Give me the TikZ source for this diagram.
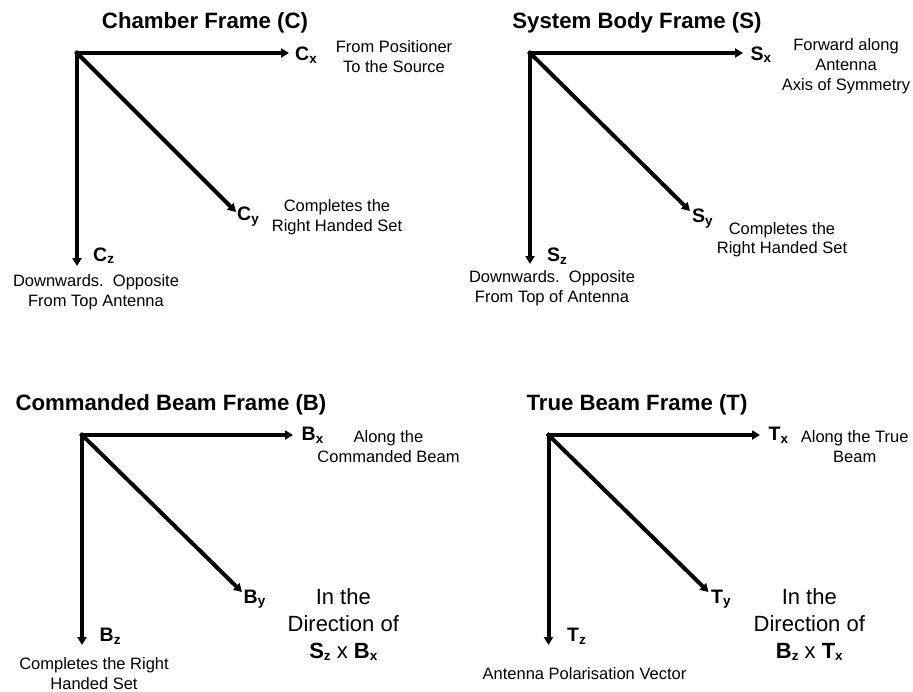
\documentclass[tikz,border=0pt]{standalone}
\usepackage{fontspec}
\setmainfont{Liberation Sans}
\usetikzlibrary{arrows.meta, positioning}

% bold axis name with lowered index
\newcommand{\axlab}[2]{#1\raisebox{-2.5pt}{\fontsize{13.5}{13.5}\selectfont #2}}

\begin{document}
\begin{tikzpicture}[
  x=1pt, y=-1pt,
  axis/.style    = {line width=4pt, line cap=rect, -{Triangle[length=8pt,width=9pt]}},
  ttl/.style     = {font=\fontsize{22.2}{24}\selectfont\bfseries, inner sep=0pt, anchor=base},
  axname/.style  = {font=\fontsize{19.5}{22}\selectfont\bfseries, inner sep=0pt, anchor=base west},
  note/.style    = {font=\fontsize{16.5}{19.6}\selectfont, align=center, inner sep=0pt, anchor=north},
  bignote/.style = {font=\fontsize{22}{27}\selectfont, align=center, inner sep=0pt, anchor=north},
]
  \useasboundingbox (0,0) rectangle (913,691);

%--- Chamber frame (top left) ---
  \node[ttl] (Ct) at (205,28.5) {Chamber Frame (C)};

  \coordinate (Co)  at (77,53);
  \coordinate (Cxe) at (289,53);
  \coordinate (Cye) at (236,212);
  \coordinate (Cze) at (77,266);

  \draw[axis] (Co) -- (Cxe);
  \draw[axis] (Co) -- (Cye);
  \draw[axis] (Co) -- (Cze);

  \node[axname] (Cx) at (295,60.5)  {\axlab{C}{x}};
  \node[axname] (Cy) at (237,220.5) {\axlab{C}{y}};
  \node[axname] (Cz) at (93,261)    {\axlab{C}{z}};

  \node[note] (Cxn) at (394,40.7)  {From Positioner\\To the Source};
  \node[note] (Cyn) at (337,199.7) {Completes the\\Right Handed Set};
  \node[note] (Czn) at (96,274.7)  {Downwards.~~Opposite\\From Top Antenna};

%--- System body frame (top right) ---
  \node[ttl] (St) at (637,28.8) {System Body Frame (S)};

  \coordinate (So)  at (530,53);
  \coordinate (Sxe) at (743,53);
  \coordinate (Sye) at (690,211);
  \coordinate (Sze) at (530,264);

  \draw[axis] (So) -- (Sxe);
  \draw[axis] (So) -- (Sye);
  \draw[axis] (So) -- (Sze);

  \node[axname] (Sx) at (750.5,60)  {\axlab{S}{x}};
  \node[axname] (Sy) at (692,222.5) {\axlab{S}{y}};
  \node[axname] (Sz) at (547,261.5) {\axlab{S}{z}};

  \node[note] (Sxn) at (846,38.7) {Forward along\\Antenna\\Axis of Symmetry};
  \node[note] (Syn) at (782,222)  {Completes the\\Right Handed Set};
  \node[note] (Szn) at (552,270.7) {Downwards.~~Opposite\\From Top of Antenna};

%--- Commanded beam frame (bottom left) ---
  \node[ttl] (Bt) at (171,410) {Commanded Beam Frame (B)};

  \coordinate (Bo)  at (82,435);
  \coordinate (Bxe) at (293,435);
  \coordinate (Bye) at (242,592);
  \coordinate (Bze) at (82,645);

  \draw[axis] (Bo) -- (Bxe);
  \draw[axis] (Bo) -- (Bye);
  \draw[axis] (Bo) -- (Bze);

  \node[axname] (Bx) at (301.5,440.5) {\axlab{B}{x}};
  \node[axname] (By) at (243.5,603)   {\axlab{B}{y}};
  \node[axname] (Bz) at (99.5,641.5)  {\axlab{B}{z}};

  \node[note]    (Bxn) at (388.5,430.7) {Along the\\Commanded Beam};
  \node[bignote] (Byn) at (343.3,588.3)
    {In the\\Direction of\\{\bfseries\axlab{S}{z}} x {\bfseries\axlab{B}{x}}};
  \node[note]    (Bzn) at (94,657.3) {Completes the Right\\Handed Set};

%--- True beam frame (bottom right) ---
  \node[ttl] (Tt) at (637,410) {True Beam Frame (T)};

  \coordinate (To)  at (548.5,435);
  \coordinate (Txe) at (760,435);
  \coordinate (Tye) at (708.5,592);
  \coordinate (Tze) at (548.5,645);

  \draw[axis] (To) -- (Txe);
  \draw[axis] (To) -- (Tye);
  \draw[axis] (To) -- (Tze);

  \node[axname] (Tx) at (768.5,440.5) {\axlab{T}{x}};
  \node[axname] (Ty) at (711,603)     {\axlab{T}{y}};
  \node[axname] (Tz) at (567,641.5)   {\axlab{T}{z}};

  \node[note]    (Txn) at (854.7,430.7) {Along the True\\Beam};
  \node[bignote] (Tyn) at (809.3,588.3)
    {In the\\Direction of\\{\bfseries\axlab{B}{z}} x {\bfseries\axlab{T}{x}}};
  \node[note]    (Tzn) at (584.5,667) {Antenna Polarisation Vector};
\end{tikzpicture}
\end{document}
